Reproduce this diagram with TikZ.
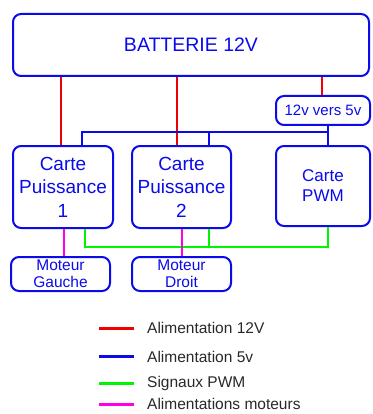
\documentclass[tikz,border=0pt]{standalone}
\usepackage{fontspec}
\setmainfont{Liberation Sans}
\definecolor{bblue}{RGB}{10,10,235}
\definecolor{rred}{RGB}{240,0,0}
\definecolor{ggreen}{RGB}{0,245,0}
\definecolor{mmag}{RGB}{255,0,230}
\definecolor{legtext}{RGB}{40,40,40}
\begin{document}
\begin{tikzpicture}[x=1pt,y=-1pt,
  box/.style={draw=bblue,text=bblue,line width=2pt,rounded corners=8pt,inner sep=0pt,align=center},
  wred/.style={draw=rred,line width=2pt},
  wblue/.style={draw=bblue,line width=2pt},
  wgreen/.style={draw=ggreen,line width=2pt},
  wmag/.style={draw=mmag,line width=2pt},
  legline/.style={line width=3pt},
  legtxt/.style={anchor=west,text=legtext,inner sep=0pt,font=\fontsize{15.5}{18}\selectfont}]
\useasboundingbox (0,0) rectangle (372,414);
\node[box,minimum width=356pt,minimum height=62pt,font=\fontsize{19.5}{22}\selectfont] (bat) at (191,45) {BATTERIE 12V};
\node[box,minimum width=94pt,minimum height=29pt,font=\fontsize{15}{18}\selectfont] (conv) at (323,110.5) {12v vers 5v};
\node[box,minimum width=100pt,minimum height=82pt,font=\fontsize{19}{23.5}\selectfont] (c1) at (63,187) {Carte\\Puissance\\1};
\node[box,minimum width=99pt,minimum height=82pt,font=\fontsize{19}{23.5}\selectfont] (c2) at (181.5,187) {Carte\\Puissance\\2};
\node[box,minimum width=94pt,minimum height=80pt,font=\fontsize{17}{20}\selectfont] (pwm) at (323,186) {Carte\\PWM};
\node[box,minimum width=99pt,minimum height=34pt,font=\fontsize{15.5}{17}\selectfont] (mg) at (60.5,274) {Moteur\\Gauche};
\node[box,minimum width=99pt,minimum height=34pt,font=\fontsize{15.5}{17}\selectfont] (md) at (181.5,274) {Moteur\\Droit};
% x positions
\coordinate (xr1) at (61,0);
\coordinate (xr2) at (177,0);
\coordinate (xr3) at (322,0);
\coordinate (xb1) at (82,132);
\coordinate (xb2) at (209,132);
\coordinate (xb3) at (328,132);
\coordinate (xg1) at (85,247);
\coordinate (xg2) at (209,247);
\coordinate (xg3) at (328,247);
\coordinate (xm1) at (64,0);
\coordinate (xm2) at (182,0);
% red
\draw[wred] (bat.south -| xr1) -- (c1.north -| xr1);
\draw[wred] (bat.south -| xr2) -- (c2.north -| xr2);
\draw[wred] (bat.south -| xr3) -- (conv.north -| xr3);
% blue
\draw[wblue] (conv.south -| xb3) -- (pwm.north -| xb3);
\draw[wblue] (c1.north -| xb1) -- (xb1) -- (xb3);
\draw[wblue] (xb2) -- (c2.north -| xb2);
% green
\draw[wgreen] (c1.south -| xg1) -- (xg1) -- (xg3) -- (pwm.south -| xg3);
\draw[wgreen] (c2.south -| xg2) -- (xg2);
% magenta
\draw[wmag] (c1.south -| xm1) -- (mg.north -| xm1);
\draw[wmag] (c2.south -| xm2) -- (md.north -| xm2);
% legend
\coordinate (l1a) at (99,328); \coordinate (l1b) at (134,328);
\coordinate (l2a) at (99,356); \coordinate (l2b) at (134,356);
\coordinate (l3a) at (99,383); \coordinate (l3b) at (134,383);
\coordinate (l4a) at (99,404); \coordinate (l4b) at (134,404);
\draw[legline,rred] (l1a) -- (l1b);
\draw[legline,bblue] (l2a) -- (l2b);
\draw[legline,ggreen] (l3a) -- (l3b);
\draw[legline,mmag] (l4a) -- (l4b);
\node[legtxt] (t1) at (147,328) {Alimentation 12V};
\node[legtxt] (t2) at (147,357) {Alimentation 5v};
\node[legtxt] (t3) at (147,383) {Signaux PWM};
\node[legtxt] (t4) at (147,404) {Alimentations moteurs};
\end{tikzpicture}
\end{document}
